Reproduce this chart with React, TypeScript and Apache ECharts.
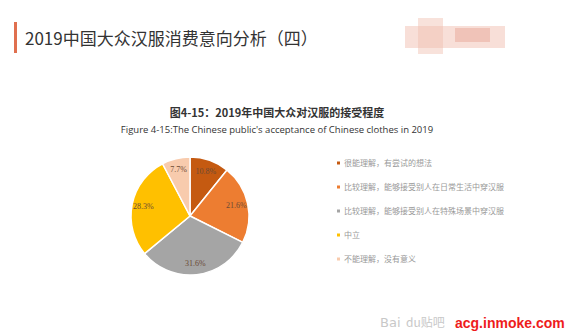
import React, { useEffect, useRef } from "react";
import * as echarts from "echarts";

const categories = [
  "很能理解，有尝试的想法",
  "比较理解，能够接受别人在日常生活中穿汉服",
  "比较理解，能够接受别人在特殊场景中穿汉服",
  "中立",
  "不能理解，没有意义",
];
const values = [10.8, 21.6, 31.6, 28.3, 7.7];
const colors = ["#c55a11", "#ed7d31", "#a5a5a5", "#ffc000", "#f8cbad"];

export default function App() {
  const ref = useRef<HTMLDivElement>(null);
  useEffect(() => {
    if (!ref.current) return;
    const chart = echarts.init(ref.current, null, { renderer: "svg" });
    const data = categories.map((c, i) => ({ name: c, value: values[i] }));
    chart.setOption({
      animation: false,
      backgroundColor: "#ffffff",
      color: colors,
      title: [
        {
          text: "图4-15：2019年中国大众对汉服的接受程度",
          left: 272,
          top: 101,
          textAlign: "center",
          textStyle: { fontSize: 11, fontWeight: "bold", color: "#333", fontFamily: "Noto Sans CJK SC" },
        },
        {
          text: "Figure 4-15:The Chinese public's acceptance of Chinese clothes in 2019",
          left: 272,
          top: 119,
          textAlign: "center",
          textStyle: { fontSize: 9.5, fontWeight: "normal", color: "#333", fontFamily: "Open Sans" },
        },
      ],
      legend: {
        orient: "vertical",
        left: 330,
        top: 154,
        itemWidth: 5,
        itemHeight: 5,
        itemGap: 16,
        icon: "rect",
        data: categories,
        textStyle: { fontSize: 8, color: "#999", fontFamily: "Noto Sans CJK SC", padding: [0, 0, 0, -2] },
      },
      series: [
        {
          type: "pie",
          center: [190, 216],
          radius: [0, 59],
          startAngle: 90,
          clockwise: true,
          data,
          itemStyle: { borderColor: "#ffffff", borderWidth: 1.5 },
          label: { show: false },
          labelLine: { show: false },
        },
        {
          type: "pie",
          center: [190, 216],
          radius: [30, 59],
          startAngle: 90,
          clockwise: true,
          silent: true,
          data,
          itemStyle: { color: "rgba(0,0,0,0)", borderWidth: 0 },
          emphasis: { disabled: true },
          label: {
            show: true,
            position: "inside",
            formatter: (p: any) => p.value.toFixed(1) + "%",
            fontSize: 8,
            color: "#6b4a35",
            fontFamily: "Liberation Serif",
          },
          labelLine: { show: false },
        },
      ],
      graphic: [
        { type: "rect", shape: { x: 14, y: 22, width: 3, height: 31 }, style: { fill: "#e0704f" } },
        {
          type: "text",
          x: 25,
          y: 37,
          style: {
            text: "2019中国大众汉服消费意向分析（四）",
            fontSize: 17,
            fill: "#333",
            fontFamily: "Noto Sans CJK SC",
            verticalAlign: "middle",
          },
        },
        { type: "rect", shape: { x: 405, y: 26, width: 100, height: 22 }, style: { fill: "#f2c4b8", opacity: 0.55 } },
        { type: "rect", shape: { x: 418, y: 18, width: 25, height: 36 }, style: { fill: "#f0bfb0", opacity: 0.45 } },
        { type: "rect", shape: { x: 455, y: 28, width: 35, height: 14 }, style: { fill: "#e8a898", opacity: 0.5 } },
        {
          type: "text",
          x: 380,
          y: 322,
          style: { text: "Bai", fontSize: 13, fill: "#c8c8c8", fontFamily: "DejaVu Sans", verticalAlign: "middle" },
        },
        {
          type: "text",
          x: 406,
          y: 321,
          style: { text: "du贴吧", fontSize: 12, fill: "#c8c8c8", fontFamily: "Noto Sans CJK SC", verticalAlign: "middle" },
        },
        {
          type: "text",
          x: 455,
          y: 323,
          style: {
            text: "acg.inmoke.com",
            fontSize: 14,
            fontWeight: "bold",
            fill: "#ee1c1c",
            fontFamily: "Liberation Sans",
            verticalAlign: "middle",
          },
        },
      ],
    });
    return () => chart.dispose();
  }, []);
  return <div ref={ref} style={{ width: 580, height: 336, position: "absolute", left: 0, top: 0 }} />;
}
